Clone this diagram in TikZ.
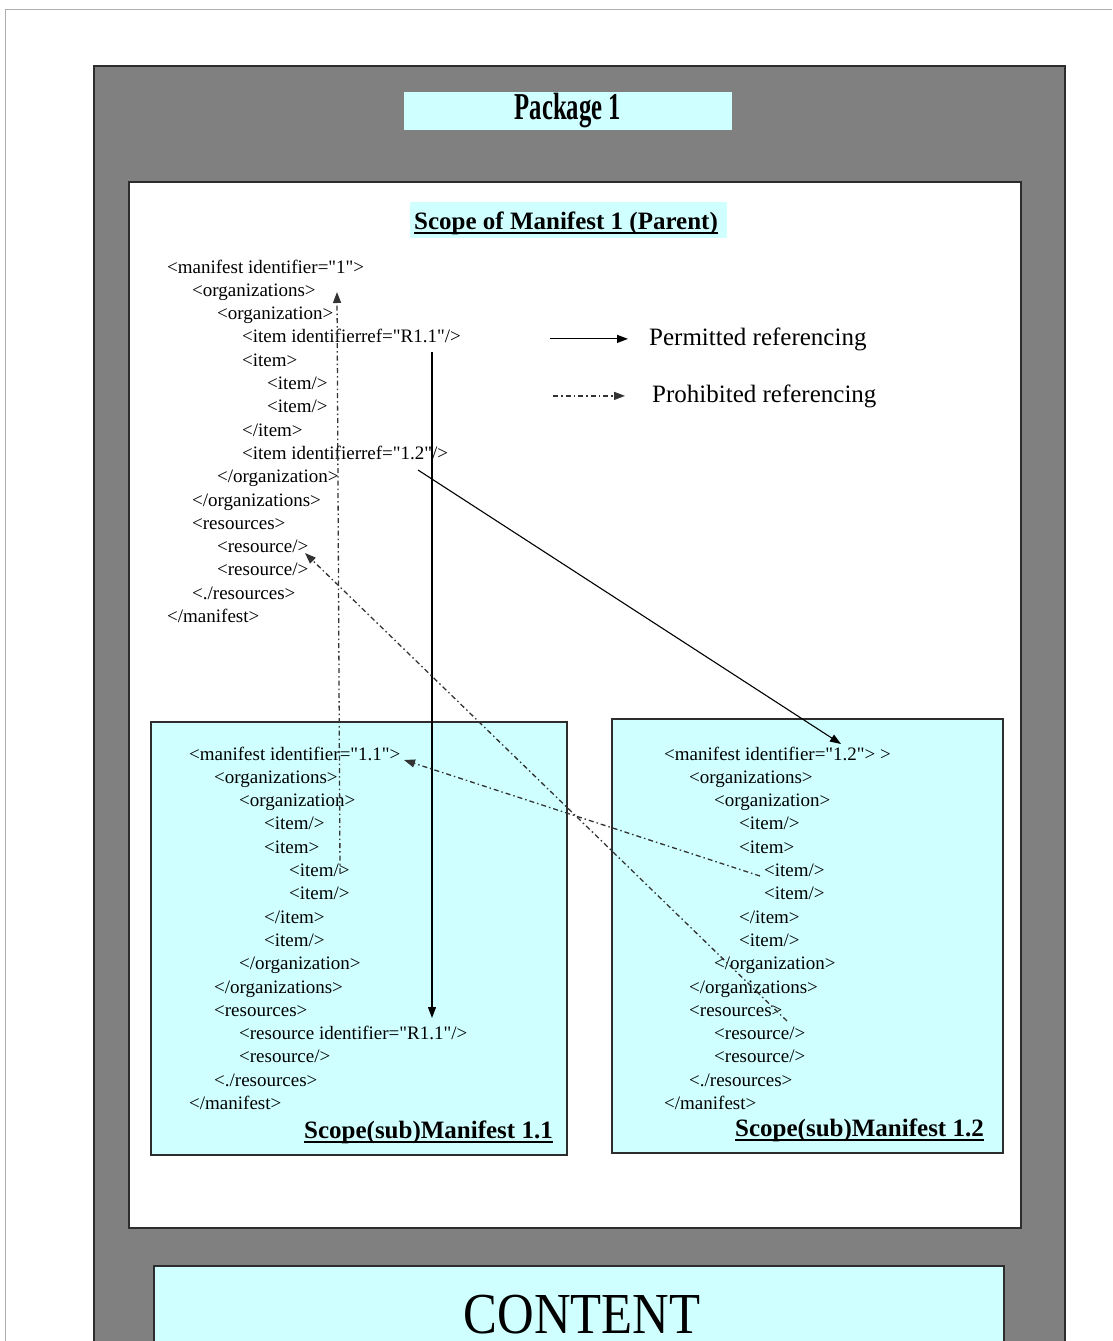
\documentclass[tikz,border=0pt]{standalone}
\usepackage{fontspec}
\setmainfont{Liberation Serif}
\usepackage{graphicx}
\usepackage{xcolor}
\definecolor{pkg-gray}{RGB}{128,128,128}
\definecolor{scope-cyan}{RGB}{208,255,255}
\definecolor{frame-dark}{RGB}{45,45,45}
\definecolor{page-line}{RGB}{175,175,175}
\usepackage{tikz}
\usetikzlibrary{arrows.meta,positioning}

\newcommand{\qq}{\textquotedbl}

\begin{document}
\begin{tikzpicture}[
    x=1pt, y=-1pt,
    every node/.style={inner sep=0pt},
    box/.style={draw=frame-dark, line width=1.2pt},
    xml/.style={font=\fontsize{19}{23}\selectfont, anchor=base west},
    heading/.style={font=\fontsize{25}{28}\selectfont\bfseries},
    legend/.style={font=\fontsize{25}{28}\selectfont, anchor=base west},
    underbar/.style={line width=1.6pt},
    permitted/.style={line width=1.1pt, -{Triangle[length=11pt,width=8pt]}},
    prohibited/.style={line width=1.3pt, draw=black!80,
        dash pattern=on 5pt off 3pt on 1.5pt off 3pt,
        -{Triangle[length=11pt,width=8pt]}}
]

\useasboundingbox (0,0) rectangle (1112,1341);

% Page edge
\draw[page-line, line width=0.8pt] (5,1341) -- (5,9) -- (1112,9);

% Package frame
\node[box, fill=pkg-gray, line width=1.5pt,
    minimum width=971pt, minimum height=1334pt] (pkg) at (579.5,733) {};

% Package title
\node[fill=scope-cyan, minimum width=328pt, minimum height=38pt] (pkglabel) at (568,111)
    {\scalebox{0.65}[1]{\fontsize{38}{40}\selectfont\bfseries Package 1}};

% Scope of the parent manifest
\node[box, fill=white, minimum width=892pt, minimum height=1046pt] (parent) at (575,705) {};
\node[fill=scope-cyan, minimum width=317pt, minimum height=36pt] (parenttitlebg) at (568.5,220) {};
\node[heading, anchor=base] (parenttitle) at (566,229) {Scope of Manifest 1 (Parent)};
\draw[underbar] ([yshift=-4pt]parenttitle.base west) -- ([yshift=-4pt]parenttitle.base east);

% Parent manifest listing
\foreach \lvl/\txt [count=\i from 0] in {
    0/{<manifest identifier=\qq1\qq>},
    1/{<organizations>},
    2/{<organization>},
    3/{<item identifierref=\qq R1.1\qq/>},
    3/{<item>},
    4/{<item/>},
    4/{<item/>},
    3/{</item>},
    3/{<item identifierref=\qq1.2\qq/>},
    2/{</organization>},
    1/{</organizations>},
    1/{<resources>},
    2/{<resource/>},
    2/{<resource/>},
    1/{<./resources>},
    0/{</manifest>}}
    \node[xml] (mA-\i) at ({167+25*\lvl},{273+23.3*\i}) {\txt};

% Legend
\node[legend] (legP) at (649,345) {Permitted referencing};
\node[legend] (legX) at (652,402) {Prohibited referencing};
\draw[permitted] ([xshift=-99pt]legP.west) -- ([xshift=-21pt]legP.west);
\draw[prohibited] ([xshift=-99pt]legX.west) -- ([xshift=-27pt]legX.west);

% Sub manifest 1.1
\node[box, fill=scope-cyan, minimum width=416pt, minimum height=433pt] (sub1) at (359,938.5) {};
\foreach \lvl/\txt [count=\i from 0] in {
    0/{<manifest identifier=\qq1.1\qq>},
    1/{<organizations>},
    2/{<organization>},
    3/{<item/>},
    3/{<item>},
    4/{<item/>},
    4/{<item/>},
    3/{</item>},
    3/{<item/>},
    2/{</organization>},
    1/{</organizations>},
    1/{<resources>},
    2/{<resource identifier=\qq R1.1\qq/>},
    2/{<resource/>},
    1/{<./resources>},
    0/{</manifest>}}
    \node[xml] (mB-\i) at ({189+25*\lvl},{760+23.3*\i}) {\txt};
\node[heading, anchor=base east] (sub1title) at (553,1138) {Scope(sub)Manifest 1.1};
\draw[underbar] ([yshift=-4pt]sub1title.base west) -- ([yshift=-4pt]sub1title.base east);

% Sub manifest 1.2
\node[box, fill=scope-cyan, minimum width=391pt, minimum height=434pt] (sub2) at (807.5,936) {};
\foreach \lvl/\txt [count=\i from 0] in {
    0/{<manifest identifier=\qq1.2\qq> >},
    1/{<organizations>},
    2/{<organization>},
    3/{<item/>},
    3/{<item>},
    4/{<item/>},
    4/{<item/>},
    3/{</item>},
    3/{<item/>},
    2/{</organization>},
    1/{</organizations>},
    1/{<resources>},
    2/{<resource/>},
    2/{<resource/>},
    1/{<./resources>},
    0/{</manifest>}}
    \node[xml] (mC-\i) at ({664+25*\lvl},{760+23.3*\i}) {\txt};
\node[heading, anchor=base east] (sub2title) at (984,1136) {Scope(sub)Manifest 1.2};
\draw[underbar] ([yshift=-4pt]sub2title.base west) -- ([yshift=-4pt]sub2title.base east);

% Content
\node[box, fill=scope-cyan, minimum width=850pt, minimum height=134pt] (content) at (579,1333) {};
\node[anchor=base] (contentlabel) at (582,1333)
    {\scalebox{0.875}[1]{\fontsize{58}{58}\selectfont CONTENT}};

% Permitted references
\coordinate (r11from) at (432,352);
\coordinate (r11to) at (432,1018);
\coordinate (m12from) at (418,470);
\coordinate (m12to) at (841,744);
\draw[permitted] (r11from) -- (r11to);
\draw[permitted] (m12from) -- (m12to);

% Prohibited references
\coordinate (orgfrom) at (340,873);
\coordinate (orgto) at (337,292);
\coordinate (m11from) at (760,876);
\coordinate (m11to) at (404,760);
\coordinate (resfrom) at (787,1021);
\coordinate (resto) at (305,553);
\draw[prohibited] (orgfrom) -- (orgto);
\draw[prohibited] (m11from) -- (m11to);
\draw[prohibited] (resfrom) -- (resto);

\end{tikzpicture}
\end{document}
